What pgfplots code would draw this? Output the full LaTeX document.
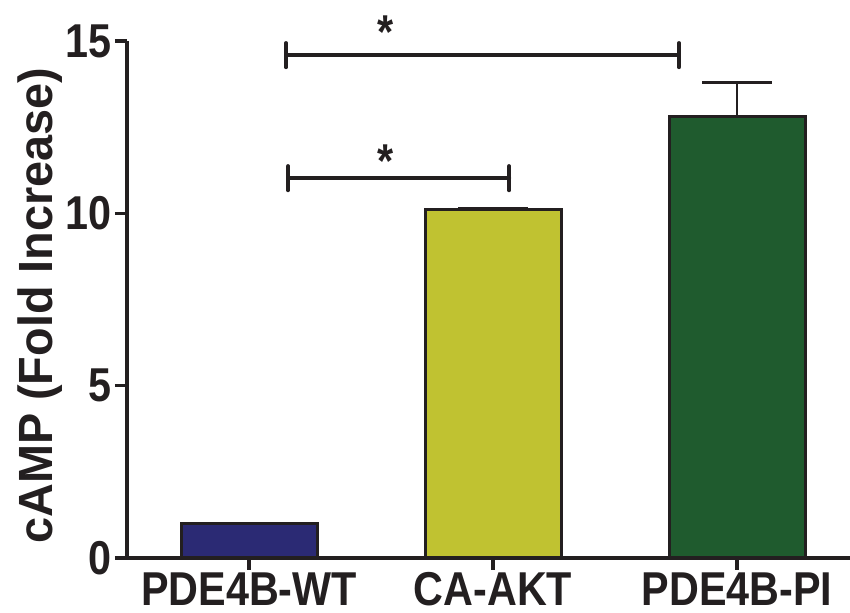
\documentclass[border=0pt]{standalone}
\usepackage{pgfplots}
\pgfplotsset{compat=1.18}
\usepackage{fontspec}
\setmainfont{Liberation Sans}[FakeStretch=0.87]
\newfontfamily\ylfont{Liberation Sans}[FakeStretch=0.975]
\definecolor{ink}{HTML}{231F20}
\definecolor{navy}{HTML}{2B2A74}
\definecolor{olive}{HTML}{C0C231}
\definecolor{dgreen}{HTML}{1F5B2E}
\begin{document}
\begin{tikzpicture}
\begin{axis}[
  at={(0,0)}, anchor=south west,
  scale only axis, width=361.5pt, height=258.5pt,
  xmin=-0.5, xmax=2.463, ymin=0, ymax=15,
  axis x line=bottom, axis y line=left,
  axis line style={-, line width=2pt, ink},
  major tick style={line width=1.8pt, ink},
  major tick length=6pt,
  tick align=outside,
  xtick={0,1,2},
  xticklabels={PDE4B-WT, CA-AKT, PDE4B-PI},
  ytick={0,5,10,15},
  /pgf/number format/assume math mode=true,
  ticklabel style={font=\fontsize{23.75}{28}\selectfont\bfseries, text=ink, inner sep=0pt},
  xticklabel style={anchor=north, yshift=-1pt},
  yticklabel style={anchor=east, xshift=-1.5pt},
  ylabel={cAMP (Fold Increase)},
  ylabel style={font=\ylfont\fontsize{24}{28}\selectfont\bfseries, text=ink,
    at={(axis description cs:-0.12,0.488)}, anchor=center, inner sep=0pt},
  clip=false,
]
\addplot[ybar, bar width=68pt, bar shift=0pt, fill=navy, draw=ink, line width=1.5pt]
  coordinates {(0,1.0)};
\addplot[ybar, bar width=68pt, bar shift=0pt, fill=olive, draw=ink, line width=1.5pt,
  error bars/.cd, y dir=plus, y explicit,
  error bar style={line width=1.2pt, ink},
  error mark options={rotate=90, mark size=17.5pt, line width=1.5pt, ink}]
  coordinates {(1,10.1) +- (0,0.05)};
\addplot[ybar, bar width=68pt, bar shift=0pt, fill=dgreen, draw=ink, line width=1.5pt,
  error bars/.cd, y dir=plus, y explicit,
  error bar style={line width=1.2pt, ink},
  error mark options={rotate=90, mark size=17.5pt, line width=1.5pt, ink}]
  coordinates {(2,12.82) +- (0,0.99)};
% significance brackets
\addplot[sharp plot, no marks, ink, line width=2pt, line cap=round] coordinates {(0.152,14.59) (1.762,14.59)};
\addplot[sharp plot, no marks, ink, line width=2pt, line cap=round] coordinates {(0.152,14.24) (0.152,14.94)};
\addplot[sharp plot, no marks, ink, line width=2pt, line cap=round] coordinates {(1.762,14.24) (1.762,14.94)};
\addplot[sharp plot, no marks, ink, line width=2pt, line cap=round] coordinates {(0.16,11.02) (1.066,11.02)};
\addplot[sharp plot, no marks, ink, line width=2pt, line cap=round] coordinates {(0.16,10.67) (0.16,11.37)};
\addplot[sharp plot, no marks, ink, line width=2pt, line cap=round] coordinates {(1.066,10.67) (1.066,11.37)};
\node[anchor=base, inner sep=0pt, text=ink, font=\fontsize{23.75}{28}\selectfont\bfseries] at (axis cs:0.56,14.77) {*};
\node[anchor=base, inner sep=0pt, text=ink, font=\fontsize{23.75}{28}\selectfont\bfseries] at (axis cs:0.56,11.05) {*};
\end{axis}
\pgfresetboundingbox
\useasboundingbox (-63.5pt,-27.5pt) rectangle (361.5pt,279pt);
\end{tikzpicture}
\end{document}
